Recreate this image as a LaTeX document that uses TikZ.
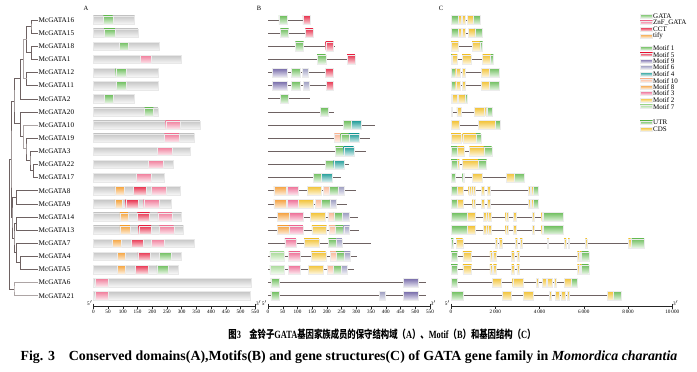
\documentclass[tikz,border=0pt]{standalone}
\usepackage{graphicx}
\usepackage{fontspec}
\setmainfont{Liberation Serif}
\newfontfamily\cjk{Noto Sans CJK SC}
\usetikzlibrary{calc}

\definecolor{dGATA}{HTML}{6DBE5C}
\definecolor{dZnF}{HTML}{F07C9A}
\definecolor{dCCT}{HTML}{E8324E}
\definecolor{dtify}{HTML}{F5A23A}
\definecolor{mone}{HTML}{6DBE5C}
\definecolor{mtwo}{HTML}{F2C233}
\definecolor{mthree}{HTML}{EE6E96}
\definecolor{mfour}{HTML}{1E9C98}
\definecolor{mfive}{HTML}{E8324E}
\definecolor{msix}{HTML}{9C9CC0}
\definecolor{mseven}{HTML}{A8DA98}
\definecolor{meight}{HTML}{F5A03C}
\definecolor{mnine}{HTML}{7468A8}
\definecolor{mten}{HTML}{F9B898}
\definecolor{utr}{HTML}{6DBE5C}
\definecolor{cds}{HTML}{F2C233}
\definecolor{treec}{HTML}{6E6262}
\definecolor{treelt}{HTML}{ADA5A5}

\newcommand{\lat}[1]{{\rmfamily\bfseries #1}}

\tikzset{
 gene/.style={anchor=west,inner sep=1pt,font=\fontsize{7.2}{7}\selectfont},
 tree/.style={draw=treec,line width=.55pt},
 treegray/.style={draw=treelt,line width=.55pt},
 protbar/.style={top color=gray!45,bottom color=gray!6,draw=gray!18,line width=.3pt},
 dom/.style={top color=#1,bottom color=#1!15,draw=gray!15,line width=.3pt},
 motline/.style={draw=treec,line width=.6pt},
 intron/.style={draw=treec,line width=.6pt},
 axis/.style={draw=black!85,line width=.45pt},
 ticklab/.style={font=\fontsize{5.2}{5}\selectfont,inner sep=.6pt},
 legtext/.style={anchor=west,inner sep=.5pt,font=\fontsize{7}{7}\selectfont},
 paneltag/.style={font=\fontsize{6.5}{6}\selectfont,inner sep=0pt}
}

\begin{document}
\begin{tikzpicture}[x=1pt,y=-1pt]
 \useasboundingbox (0,0) rectangle (697,372);

 % gene names
 \foreach \i/\g in {0/16,1/15,2/18,3/1,4/12,5/11,6/2,7/20,8/10,9/19,10/3,
   11/22,12/17,13/8,14/9,15/14,16/13,17/7,18/4,19/5,20/6,21/21}
  \node[gene] (g\g) at (37.5,{20+13.13*\i}) {McGATA\g};

 % tree
 \coordinate (t1615) at (31,26.5);
 \coordinate (t181) at (31.5,52.5);
 \coordinate (tA) at (26.7,39.5);
 \coordinate (t1211) at (26.7,78.5);
 \coordinate (tB) at (23.3,59);
 \coordinate (tC) at (20.7,78.5);
 \coordinate (t2217) at (33.3,170.5);
 \coordinate (tD) at (30,160);
 \coordinate (tE) at (26,148.5);
 \coordinate (tF) at (23.3,136);
 \coordinate (tG) at (20.7,123.5);
 \coordinate (tH) at (14,101);
 \coordinate (t89) at (16.7,197);
 \coordinate (t1413) at (16.7,223.3);
 \coordinate (t45) at (20.7,262.5);
 \coordinate (tI) at (16.7,252.6);
 \coordinate (tJ) at (14,238);
 \coordinate (tK) at (12,217.5);
 \coordinate (tL) at (11,159);
 \coordinate (t621) at (14,289);
 \coordinate (troot) at (9.5,224);
 \draw[tree] (g16.west) -| (t1615) |- (g15.west);
 \draw[tree] (g18.west) -| (t181) |- (g1.west);
 \draw[tree] (t1615) -| (tA) |- (t181);
 \draw[tree] (g12.west) -| (t1211) |- (g11.west);
 \draw[treegray] (tA) -| (tB) |- (t1211);
 \draw[tree] (tB) -| (tC) |- (g2.west);
 \draw[tree] (g22.west) -| (t2217) |- (g17.west);
 \draw[tree] (g3.west) -| (tD) |- (t2217);
 \draw[tree] (g19.west) -| (tE) |- (tD);
 \draw[treegray] (g10.west) -| (tF) |- (tE);
 \draw[tree] (g20.west) -| (tG) |- (tF);
 \draw[tree] (tC) -| (tH) |- (tG);
 \draw[tree] (g8.west) -| (t89) |- (g9.west);
 \draw[tree] (g14.west) -| (t1413) |- (g13.west);
 \draw[tree] (g4.west) -| (t45) |- (g5.west);
 \draw[tree] (g7.west) -| (tI) |- (t45);
 \draw[tree] (t1413) -| (tJ) |- (tI);
 \draw[tree] (t89) -| (tK) |- (tJ);
 \draw[tree] (tH) -| (tL) |- (tK);
 \draw[treegray] (g6.west) -| (t621) |- (g21.west);
 \draw[tree] (tL) -| (troot) |- (t621);

 % A: conserved domains
 \node[paneltag] (tagA) at (86,8) {A};
 \begin{scope}[xshift=93.3pt,x=0.2945pt]
  \foreach \i/\len/\doms in {0/140/{dGATA/34/66},1/151/{dGATA/37/73},
    2/225/{dGATA/88/120},3/297/{dZnF/159/198},4/219/{dGATA/76/110},
    5/219/{dGATA/78/110},6/138/{dGATA/37/69},7/219/{dGATA/174/204},
    8/362/{dZnF/246/294},9/343/{dZnF/241/291},10/328/{dZnF/217/268},
    11/270/{dZnF/186/238},12/242/{dZnF/146/198},
    13/294/{dtify/73/106,dCCT/136/179,dZnF/198/249},
    14/266/{dtify/73/97,dCCT/110/152,dZnF/171/222},
    15/300/{dtify/90/117,dCCT/150/191,dZnF/219/268},
    16/306/{dtify/90/124,dCCT/154/196,dZnF/224/273},
    17/344/{dtify/65/96,dCCT/129/170,dZnF/198/242},
    18/297/{dtify/82/109,dCCT/151/193,dGATA/225/264},
    19/289/{dtify/82/109,dCCT/143/185,dGATA/216/253},
    20/535/{dZnF/6/51},21/532/{dZnF/6/51}}{
   \pgfmathsetmacro\yy{20+13.13*\i}
   \shade[protbar] (0,\yy-4.2) rectangle (\len,\yy+4.2);
   \foreach \col/\s/\e in \doms
    \shade[dom=\col] (\s,\yy-4.2) rectangle (\e,\yy+4.2);
  }
  \draw[axis] (0,306.7) -- (550,306.7);
  \draw[axis] (0,303.5) -- (0,308.8) (550,303.5) -- (550,308.8);
  \foreach \t in {0,50,...,550}
   \draw[axis] (\t,306.7) -- (\t,308.8) node[ticklab,below] (ta\t) {\t};
  \node[ticklab,anchor=south east] (a5) at (0,306) {5$'$};
  \node[ticklab,anchor=south west] (a3) at (550,306) {3$'$};
 \end{scope}

 % B: motifs
 \node[paneltag] (tagB) at (259,8) {B};
 \begin{scope}[xshift=268pt,x=0.2945pt]
  \foreach \i/\len/\mots in {0/145/{mone/37/65,mfive/118/144},
    1/154/{mone/42/70,mfive/127/153},2/228/{mone/93/121,mfive/196/222},
    3/298/{mone/167/196,mfive/269/295},
    4/220/{mnine/15/65,mone/79/108,msix/117/137,mfive/194/220},
    5/221/{mnine/15/65,mone/80/110,msix/120/140,mfive/197/222},
    6/142/{mone/42/70},7/223/{mone/178/205},
    8/363/{mone/255/283,mfour/283/317},
    9/345/{mten/225/247,mone/247/275,mfour/275/310},
    10/332/{mone/229/257,mfour/257/291},
    11/274/{mone/195/223,mfour/223/257},
    12/247/{mone/155/182,mfour/182/217},
    13/298/{meight/20/61,mthree/66/104,mtwo/134/182,mten/188/208,mone/208/237,msix/237/258},
    14/269/{meight/20/61,mthree/66/104,mtwo/104/154,mten/161/181,mone/181/210,msix/210/231},
    15/305/{meight/32/72,mthree/72/118,mtwo/144/194,mten/203/224,mone/224/252,msix/252/274},
    16/308/{meight/32/72,mthree/72/118,mtwo/149/199,mten/207/229,mone/229/257,msix/257/277},
    17/349/{mthree/57/95,mtwo/123/173,mone/205/232,msix/232/251},
    18/301/{mseven/6/55,mthree/70/109,mtwo/147/196,mten/211/231,mone/231/258,msix/258/280},
    19/292/{mseven/6/55,mthree/70/109,mtwo/137/187,mten/201/222,mone/222/249,msix/249/270},
    20/536/{mone/10/39,mnine/460/509},
    21/536/{mone/10/39,msix/379/398,mnine/460/509}}{
   \pgfmathsetmacro\yy{20+13.13*\i}
   \draw[motline] (0,\yy) -- (\len,\yy);
   \foreach \col/\s/\e in \mots
    \shade[dom=\col] (\s,\yy-4.4) rectangle (\e,\yy+4.4);
  }
  \draw[axis] (0,306.7) -- (550,306.7);
  \draw[axis] (0,303.5) -- (0,308.8) (550,303.5) -- (550,308.8);
  \foreach \t in {0,50,...,550}
   \draw[axis] (\t,306.7) -- (\t,308.8) node[ticklab,below] (tb\t) {\t};
  \node[ticklab,anchor=south east] (b5) at (0,306) {5$'$};
  \node[ticklab,anchor=south west] (b3) at (550,306) {3$'$};
 \end{scope}

 % C: gene structures (kb)
 \node[paneltag] (tagC) at (441,8) {C};
 \begin{scope}[xshift=451pt,x=22.13pt]
  \foreach \i/\len/\segs in {
    0/1.30/{utr/0/.33,cds/.33/.44,cds/.51/.66,cds/.75/1.01,utr/1.01/1.30},
    1/1.39/{utr/0/.33,cds/.33/.44,cds/.51/.66,cds/.78/1.08,utr/1.08/1.39},
    2/1.43/{cds/0/.33,cds/.96/1.31,utr/1.31/1.43},
    3/1.91/{utr/0/.05,cds/.05/.29,cds/.50/.89,cds/1.43/1.79,utr/1.79/1.91},
    4/2.17/{utr/0/.21,cds/.21/.41,cds/.51/.63,cds/1.36/1.73,utr/1.73/2.17},
    5/2.17/{utr/0/.21,cds/.21/.41,cds/.51/.63,cds/1.36/1.73,utr/1.73/2.17},
    6/0.74/{utr/0/.05,cds/.05/.27,cds/.33/.63,utr/.63/.74},
    7/1.87/{utr/0/.05,cds/.26/.44,cds/1.05/1.51,cds/1.57/1.62,utr/1.62/1.87},
    8/2.21/{cds/0/.36,cds/1.23/1.99,utr/1.99/2.21},
    9/1.34/{cds/0/.45,cds/.53/1.13,utr/1.13/1.34},
    10/1.84/{utr/0/.30,cds/.30/.59,cds/.83/1.49,utr/1.49/1.84},
    11/1.61/{utr/0/.29,cds/.29/.38,cds/.51/1.23,utr/1.23/1.61},
    12/3.31/{utr/0/.18,utr/.53/.59,cds/.96/1.39,cds/2.51/2.85,utr/2.85/3.31},
    13/3.96/{utr/0/.26,cds/.26/.56,cds/.80/.89,cds/.98/1.10,cds/1.36/1.49,cds/1.64/1.76,cds/3.48/3.57,cds/3.64/3.72,utr/3.72/3.96},
    14/3.96/{utr/0/.26,cds/.26/.56,cds/.98/1.10,cds/1.36/1.49,cds/1.64/1.76,cds/3.48/3.57,cds/3.64/3.72,utr/3.72/3.96},
    15/5.05/{utr/0/.75,cds/.75/1.08,cds/1.46/1.57,cds/1.66/1.80,cds/2.47/2.59,cds/2.81/2.93,cds/3.67/3.77,cds/4.10/4.17,utr/4.17/5.05},
    16/5.05/{utr/0/.75,cds/.75/1.11,cds/1.46/1.57,cds/1.66/1.80,cds/2.47/2.59,cds/2.81/2.93,cds/3.67/3.77,cds/4.10/4.17,utr/4.17/5.05},
    17/8.73/{utr/0/.11,cds/.23/.53,cds/2.00/2.09,cds/2.18/2.30,cds/2.91/3.00,cds/3.12/3.22,cds/4.35/4.41,cds/5.11/5.20,cds/5.29/5.36,cds/6.07/6.14,cds/8.01/8.12,utr/8.16/8.73},
    18/6.22/{utr/0/.30,cds/.54/.93,cds/1.76/1.85,cds/1.91/2.06,cds/2.74/2.84,cds/2.98/3.09,cds/5.71/5.80,cds/5.83/5.90,utr/5.90/6.22},
    19/6.22/{utr/0/.30,cds/.54/.93,cds/1.76/1.85,cds/1.91/2.06,cds/2.74/2.84,cds/2.98/3.09,cds/5.71/5.80,cds/5.83/5.90,utr/5.90/6.22},
    20/5.72/{utr/0/.30,cds/1.87/2.26,cds/2.79/3.27,cds/3.87/3.95,cds/4.13/4.28,cds/4.35/4.56,cds/4.67/4.77,cds/5.12/5.45,utr/5.45/5.72},
    21/7.68/{utr/0/.53,cds/2.32/2.71,cds/3.27/3.69,cds/4.44/4.52,cds/4.70/4.88,cds/4.97/5.15,cds/5.26/5.35,cds/7.05/7.33,utr/7.33/7.68}}{
   \pgfmathsetmacro\yy{20+13.13*\i}
   \draw[intron] (0,\yy) -- (\len,\yy);
   \foreach \col/\s/\e in \segs
    \shade[dom=\col] (\s,\yy-4.5) rectangle (\e,\yy+4.5);
  }
  \draw[axis] (0,306.7) -- (10,306.7);
  \draw[axis] (0,303.5) -- (0,308.8) (10,303.5) -- (10,308.8);
  \foreach \t/\lab in {0/0,2/2\,000,4/4\,000,6/6\,000,8/8\,000,10/10\,000}
   \draw[axis] (\t,306.7) -- (\t,308.8) node[ticklab,below] (tc\t) {\lab};
  \node[ticklab,anchor=south east] (c5) at (0,306) {5$'$};
  \node[ticklab,anchor=south west] (c3) at (10,306) {3$'$};
 \end{scope}

 % legend
 \foreach \col/\txt/\yy in {dGATA/GATA/16,dZnF/ZnF\_GATA/22.7,dCCT/CCT/29.3,
   dtify/tify/36,mone/Motif 1/48.3,mfive/Motif 5/54.7,mnine/Motif 9/61,
   msix/Motif 6/67.3,mfour/Motif 4/74,mten/Motif 10/80.7,meight/Motif 8/87,
   mthree/Motif 3/93.3,mtwo/Motif 2/100,mseven/Motif 7/106.7,
   utr/UTR/122.7,cds/CDS/129.3}{
  \shade[dom=\col] (640,\yy-1.9) rectangle (652.5,\yy+1.9);
  \node[legtext] (lg\yy) at (652.5,\yy) {\txt};
 }

 % caption
 \node (capzh) at (382,334) {\scalebox{.76}[1]{\fontsize{11}{13}\selectfont
   {\cjk\bfseries 图}\lat{3}\quad{\cjk\bfseries 金铃子}\lat{GATA}{\cjk\bfseries 基因家族成员的保守结构域（}\lat{A}{\cjk\bfseries ）、}\lat{Motif}{\cjk\bfseries （}\lat{B}{\cjk\bfseries ）和基因结构（}\lat{C}{\cjk\bfseries ）}}};
 \node (capen) at (349,357) {\fontsize{13.9}{15}\selectfont\bfseries
   Fig. 3\quad Conserved domains(A),Motifs(B) and gene structures(C) of GATA gene family in \textit{Momordica charantia}};
\end{tikzpicture}
\end{document}
